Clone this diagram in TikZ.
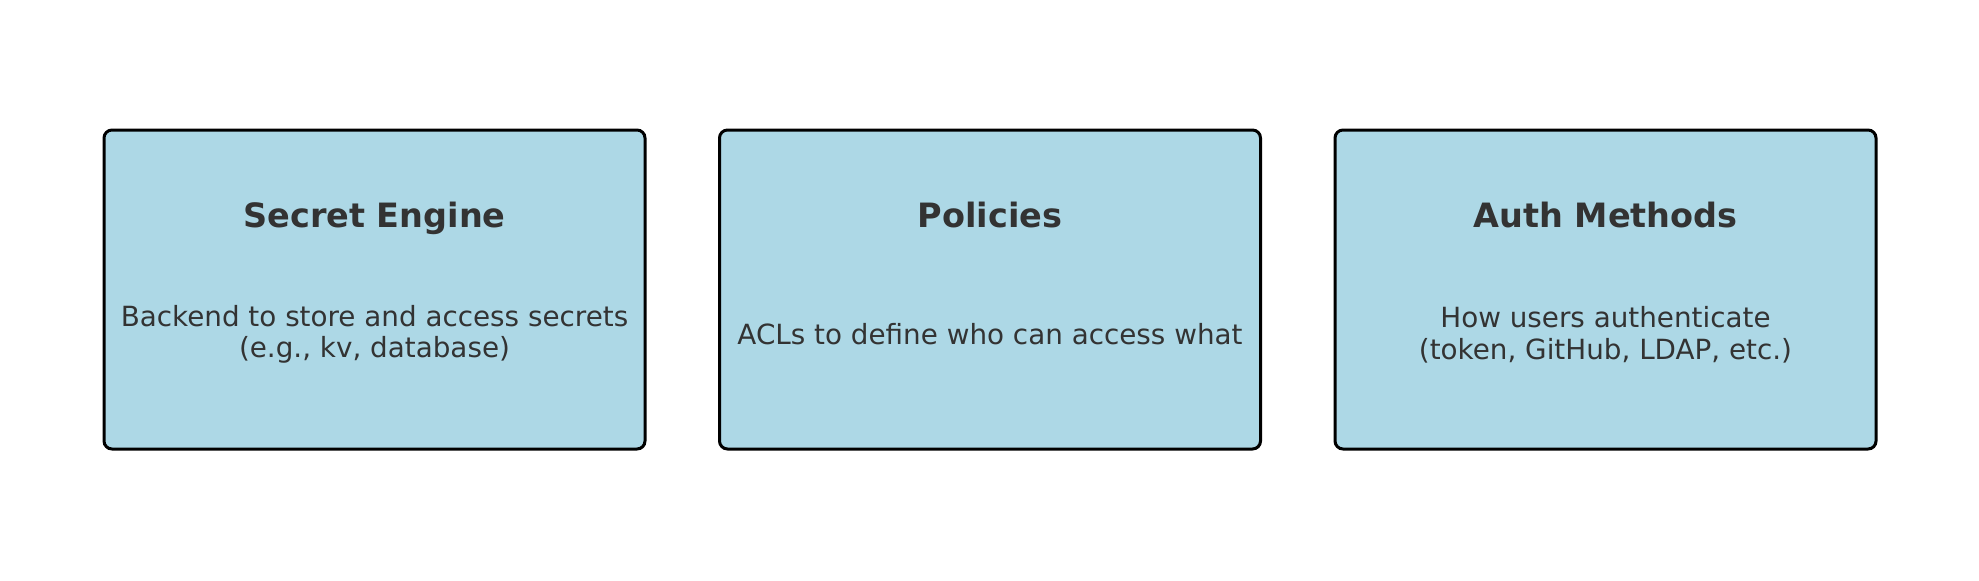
\documentclass[tikz,border=0pt]{standalone}
\usepackage{fontspec}
\setmainfont{DejaVu Sans}
\definecolor{boxfill}{HTML}{ADD8E6}
\definecolor{txt}{HTML}{333333}
\begin{document}
\begin{tikzpicture}[x=0.5pt,y=-0.5pt,
  card/.style={draw=black, fill=boxfill, line width=1.5pt, rounded corners=4pt, minimum width=270.5pt, minimum height=159.5pt, inner sep=0pt},
  ttl/.style={text=txt, font=\fontsize{16.75}{20}\selectfont\bfseries, anchor=base, inner sep=0pt},
  body/.style={text=txt, font=\fontsize{13.9}{15.8}\selectfont, align=center, inner sep=0pt}]
\useasboundingbox (0,0) rectangle (1979,580);
\node[card] (c1) at (374.5,289.5) {};
\node[card] (c2) at (990,289.5) {};
\node[card] (c3) at (1605.5,289.5) {};
\node[ttl] (t1) at (374.5,227) {Secret Engine};
\node[ttl] (t2) at (990,227) {Policies};
\node[ttl] (t3) at (1605.5,227) {Auth Methods};
\node[body] (b1) at (374.5,334.5) {Backend to store and access secrets\\(e.g., kv, database)};
\node[body] (b2) at (990,334.5) {ACLs to define who can access what};
\node[body] (b3) at (1605.5,334.5) {How users authenticate\\(token, GitHub, LDAP, etc.)};
\end{tikzpicture}
\end{document}
